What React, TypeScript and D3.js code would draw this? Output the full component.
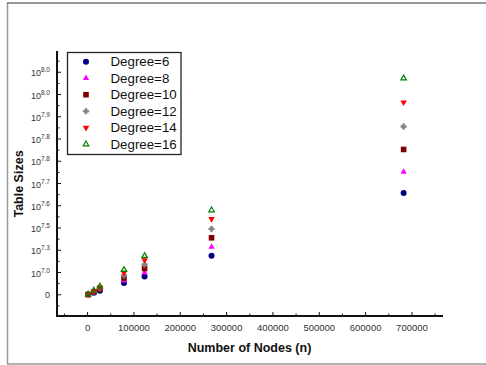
import React, { useRef, useEffect } from 'react';
import * as d3 from 'd3';

// number of nodes (x) for each measurement
const nodes = [1200, 13600, 26500, 78500, 123000, 267500, 682000];

// table sizes per degree
const degree6 = [0.08e6, 0.91e6, 1.78e6, 5.26e6, 8.2e6, 17.5e6, 45.7e6];
const degree8 = [0.1e6, 1.1e6, 2.14e6, 6.34e6, 9.9e6, 21.5e6, 55.2e6];
const degree10 = [0.11e6, 1.3e6, 2.53e6, 7.5e6, 11.8e6, 25.6e6, 65.3e6];
const degree12 = [0.13e6, 1.5e6, 2.93e6, 8.67e6, 13.6e6, 29.6e6, 75.6e6];
const degree14 = [0.15e6, 1.72e6, 3.35e6, 9.93e6, 15.6e6, 34.1e6, 86.5e6];
const degree16 = [0.17e6, 1.94e6, 3.78e6, 11.2e6, 17.5e6, 38.0e6, 97.3e6];

const seriesNames = ['Degree=6', 'Degree=8', 'Degree=10', 'Degree=12', 'Degree=14', 'Degree=16'];
const xTickValues = [0, 100000, 200000, 300000, 400000, 500000, 600000, 700000];
const yTickValues = [0, 1e7, 2e7, 3e7, 4e7, 5e7, 6e7, 7e7, 8e7, 9e7, 1e8];

const FONT = "'Liberation Sans', Arial, Helvetica, sans-serif";

const App = () => {
  const svgRef = useRef<SVGSVGElement>(null);

  useEffect(() => {
    const svg = d3.select(svgRef.current);
    svg.selectAll('*').remove();

    const width = 486;
    const height = 365;
    const axisLeft = 57;
    const axisRight = 443;
    const axisBottom = 316;
    const axisTop = 51;

    const x = d3.scaleLinear().domain([-66000, 767000]).range([axisLeft, axisRight]);
    const y = d3.scaleLinear().domain([-1e7, 1.1e8]).range([317, 50]);

    const series = [
      { name: seriesNames[0], values: degree6, color: '#000080', shape: 'circle' },
      { name: seriesNames[1], values: degree8, color: '#ff00ff', shape: 'tri' },
      { name: seriesNames[2], values: degree10, color: '#800000', shape: 'square' },
      { name: seriesNames[3], values: degree12, color: '#808080', shape: 'cross' },
      { name: seriesNames[4], values: degree14, color: '#ff0000', shape: 'triDown' },
      { name: seriesNames[5], values: degree16, color: '#008000', shape: 'triOpen' },
    ];

    svg.attr('width', width).attr('height', height);
    svg.append('rect').attr('width', width).attr('height', height).attr('fill', '#fff');

    // frame
    svg.append('line').attr('x1', 7.5).attr('x2', 7.5).attr('y1', 3).attr('y2', 364)
      .attr('stroke', '#999').attr('stroke-width', 1.5);
    svg.append('line').attr('x1', 7).attr('x2', width).attr('y1', 3).attr('y2', 3)
      .attr('stroke', '#333').attr('stroke-width', 1.2);
    svg.append('line').attr('x1', 7).attr('x2', width).attr('y1', 364).attr('y2', 364)
      .attr('stroke', '#999').attr('stroke-width', 1.5);

    const g = svg.append('g');

    // x axis ticks (inside, pointing up)
    const xMinor = d3.range(-50000, 760000, 50000);
    g.selectAll('.xtick').data(xMinor).join('line')
      .attr('x1', d => x(d)).attr('x2', d => x(d))
      .attr('y1', axisBottom)
      .attr('y2', d => axisBottom - (d % 100000 === 0 ? 4 : 2.5))
      .attr('stroke', '#111').attr('stroke-width', 1);

    g.selectAll('.xlab').data(xTickValues).join('text')
      .attr('x', d => x(d)).attr('y', 331)
      .attr('text-anchor', 'middle')
      .style('font-family', FONT).style('font-size', '9.5px').attr('fill', '#333')
      .text(d => String(d));

    // y axis ticks (inside, pointing right)
    const yMinor = d3.range(-0.5e7, 1.1e8, 0.5e7);
    g.selectAll('.ytick').data(yMinor).join('line')
      .attr('x1', axisLeft).attr('x2', d => axisLeft + (Math.round(d / 5e6) % 2 === 0 ? 4 : 2.5))
      .attr('y1', d => y(d)).attr('y2', d => y(d))
      .attr('stroke', '#111').attr('stroke-width', 1);

    const ylab = g.selectAll('.ylab').data(yTickValues).join('text')
      .attr('x', 50).attr('y', d => y(d) + 4)
      .attr('text-anchor', 'end')
      .style('font-family', FONT).style('font-size', '9px').attr('fill', '#333');
    ylab.each(function (d) {
      const t = d3.select(this);
      if (d === 0) {
        t.attr('y', y(d) + 3.5).text('0');
        return;
      }
      t.append('tspan').text('10');
      t.append('tspan').attr('dy', -4).style('font-size', '6.5px')
        .text(Math.log10(d).toFixed(1));
    });

    // axis lines
    g.append('line').attr('x1', axisLeft).attr('x2', axisLeft).attr('y1', axisTop).attr('y2', axisBottom + 1)
      .attr('stroke', '#111').attr('stroke-width', 2);
    g.append('line').attr('x1', axisLeft).attr('x2', axisRight).attr('y1', axisBottom).attr('y2', axisBottom)
      .attr('stroke', '#111').attr('stroke-width', 2);

    // axis titles
    svg.append('text').attr('x', 249.5).attr('y', 352)
      .attr('text-anchor', 'middle')
      .style('font-family', FONT).style('font-size', '12.5px').style('font-weight', 'bold').attr('fill', '#111')
      .text('Number of Nodes (n)');
    svg.append('text').attr('transform', 'translate(22.5,184) rotate(-90)')
      .attr('text-anchor', 'middle')
      .style('font-family', FONT).style('font-size', '12.5px').style('font-weight', 'bold').attr('fill', '#111')
      .text('Table Sizes');

    const drawMarker = (sel: any, shape: string, color: string) => {
      if (shape === 'circle') {
        sel.append('circle').attr('r', 3).attr('fill', color);
      } else if (shape === 'square') {
        sel.append('rect').attr('x', -2.8).attr('y', -2.8).attr('width', 5.6).attr('height', 5.6).attr('fill', color);
      } else if (shape === 'tri') {
        sel.append('path').attr('d', d3.symbol(d3.symbolTriangle, 17)()).attr('fill', color);
      } else if (shape === 'triDown') {
        sel.append('path').attr('d', d3.symbol(d3.symbolTriangle, 19)())
          .attr('transform', 'rotate(180)').attr('fill', color);
      } else if (shape === 'cross') {
        sel.append('path').attr('d', d3.symbol(d3.symbolCross, 16)())
          .attr('fill', color).attr('stroke', color).attr('stroke-width', 1).attr('stroke-opacity', 0.7)
          .attr('stroke-linejoin', 'round');
      } else if (shape === 'triOpen') {
        sel.append('path').attr('d', d3.symbol(d3.symbolTriangle, 13)())
          .attr('fill', 'none').attr('stroke', color).attr('stroke-width', 1.2);
      }
    };

    // data points
    series.forEach(s => {
      s.values.forEach((v, i) => {
        const m = g.append('g').attr('transform', `translate(${x(nodes[i])},${y(v)})`);
        drawMarker(m, s.shape, s.color);
      });
    });

    // legend
    const legend = svg.append('g');
    legend.append('rect').attr('x', 67.5).attr('y', 52.5).attr('width', 113.5).attr('height', 102)
      .attr('fill', '#fff').attr('stroke', '#222').attr('stroke-width', 1.3);
    series.forEach((s, i) => {
      const yy = 61.7 + i * 16.5;
      const m = legend.append('g').attr('transform', `translate(86,${yy})`);
      drawMarker(m, s.shape, s.color);
      legend.append('text').attr('x', 110.5).attr('y', yy + 4.7)
        .style('font-family', FONT).style('font-size', '13.3px').attr('fill', '#111')
        .text(s.name);
    });
  }, []);

  return (
    <svg ref={svgRef} style={{ position: 'absolute', left: 0, top: 0, display: 'block' }} />
  );
};

export default App;
